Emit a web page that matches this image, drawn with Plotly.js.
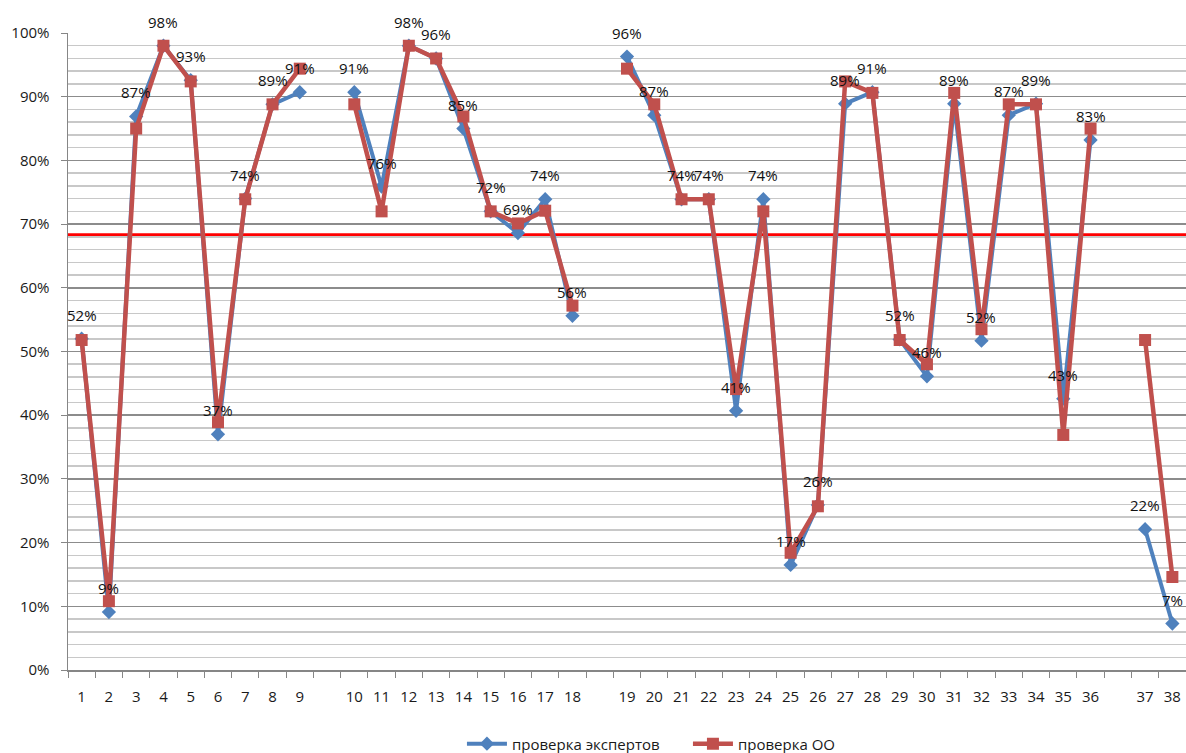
<!DOCTYPE html>
<html>
<head>
<meta charset="utf-8">
<script src="https://cdn.plot.ly/plotly-3.0.1.min.js"></script>
<style>html,body{margin:0;padding:0;background:#fff;}#chart{width:1186px;height:753px;}</style>
</head>
<body>
<div id="chart"></div>
<script>
// Category tick labels ("" = empty separator category)
const tickLabels = ["1","2","3","4","5","6","7","8","9","",
  "10","11","12","13","14","15","16","17","18","",
  "19","20","21","22","23","24","25","26","27","28","29","30","31","32","33","34","35","36","",
  "37","38"];

// проверка экспертов (%)
const expertValues = [52.0, 9.1, 86.9, 98.0, 92.6, 37.0, 74.0, 88.8, 90.7, null,
  90.7, 75.9, 98.0, 96.0, 85.0, 72.0, 68.6, 73.9, 55.6, null,
  96.3, 87.1, 73.9, 73.9, 40.7, 73.9, 16.5, 25.9, 88.9, 90.7, 51.9, 46.1, 88.9, 51.7, 87.1, 88.9, 42.6, 83.2, null,
  22.1, 7.3];

// проверка ОО (%)
const schoolValues = [51.8, 10.8, 85.0, 98.0, 92.4, 38.9, 73.9, 88.8, 94.4, null,
  88.8, 72.0, 98.0, 96.0, 86.9, 72.0, 70.1, 72.1, 57.2, null,
  94.4, 88.8, 73.9, 73.9, 44.1, 72.0, 18.4, 25.7, 92.4, 90.6, 51.8, 48.0, 90.6, 53.5, 88.8, 88.8, 36.9, 85.0, null,
  51.8, 14.6];

const seriesNames = ["проверка экспертов", "проверка ОО"];
const thresholdValue = 68.2;

// unique category keys
const xKeys = tickLabels.map((t, i) => t === "" ? "gap" + i : "c" + t);

const FONT = "Open Sans, Liberation Sans, Arial, sans-serif";

const traces = [
  {
    x: xKeys, y: expertValues, name: seriesNames[0], type: "scatter", mode: "lines+markers",
    connectgaps: false,
    line: {color: "#4F81BD", width: 4},
    marker: {symbol: "diamond", size: 11, color: "#4F81BD"},
    cliponaxis: false
  },
  {
    x: xKeys, y: schoolValues, name: seriesNames[1], type: "scatter", mode: "lines+markers",
    connectgaps: false,
    line: {color: "#C0504D", width: 4.5},
    marker: {symbol: "square", size: 12, color: "#C0504D"},
    cliponaxis: false
  }
];

const annotations = [];
expertValues.forEach((v, i) => {
  if (v === null) return;
  annotations.push({
    x: i, y: v, xref: "x", yref: "y",
    text: Math.round(v) + "%", showarrow: false, yshift: 24,
    font: {family: FONT, size: 15, color: "#111"}
  });
});

const layout = {
  width: 1186, height: 753,
  margin: {l: 68, r: 0, t: 33, b: 83},
  paper_bgcolor: "#fff", plot_bgcolor: "#fff",
  font: {family: FONT, size: 15, color: "#1a1a1a"},
  showlegend: true,
  legend: {orientation: "h", xref: "container", x: 0.3895, xanchor: "left",
    yref: "container", y: 0.012, yanchor: "middle",
    entrywidth: 171, entrywidthmode: "pixels",
    font: {family: FONT, size: 15, color: "#1a1a1a"}, itemwidth: 40},
  xaxis: {
    type: "category", range: [-0.5, tickLabels.length - 0.5],
    tickmode: "array", tickvals: xKeys, ticktext: tickLabels,
    tickson: "boundaries", ticks: "outside", ticklen: 6, tickcolor: "#868686",
    ticklabelstandoff: 12,
    showline: true, linecolor: "#868686", linewidth: 1.5,
    showgrid: false, zeroline: false, fixedrange: true,
    tickfont: {family: FONT, size: 15, color: "#1a1a1a"}
  },
  yaxis: {
    range: [0, 100], dtick: 10, tick0: 0, ticksuffix: "%",
    ticks: "outside", ticklen: 6, tickcolor: "#868686",
    ticklabelstandoff: 8,
    showline: true, linecolor: "#868686", linewidth: 1.5,
    showgrid: true, gridcolor: "#8c8c8c", gridwidth: 1.5,
    minor: {dtick: 2, showgrid: true, gridcolor: "#c8c8c8", gridwidth: 1.5, ticks: ""},
    zeroline: false, fixedrange: true,
    tickfont: {family: FONT, size: 15, color: "#1a1a1a"}
  },
  shapes: [{
    type: "line", xref: "paper", yref: "y", x0: 0, x1: 1, y0: thresholdValue, y1: thresholdValue,
    line: {color: "#FF0000", width: 4.5}, layer: "between"
  }],
  annotations: annotations
};

Plotly.newPlot("chart", traces, layout, {displayModeBar: false, staticPlot: true});
</script>
</body>
</html>
